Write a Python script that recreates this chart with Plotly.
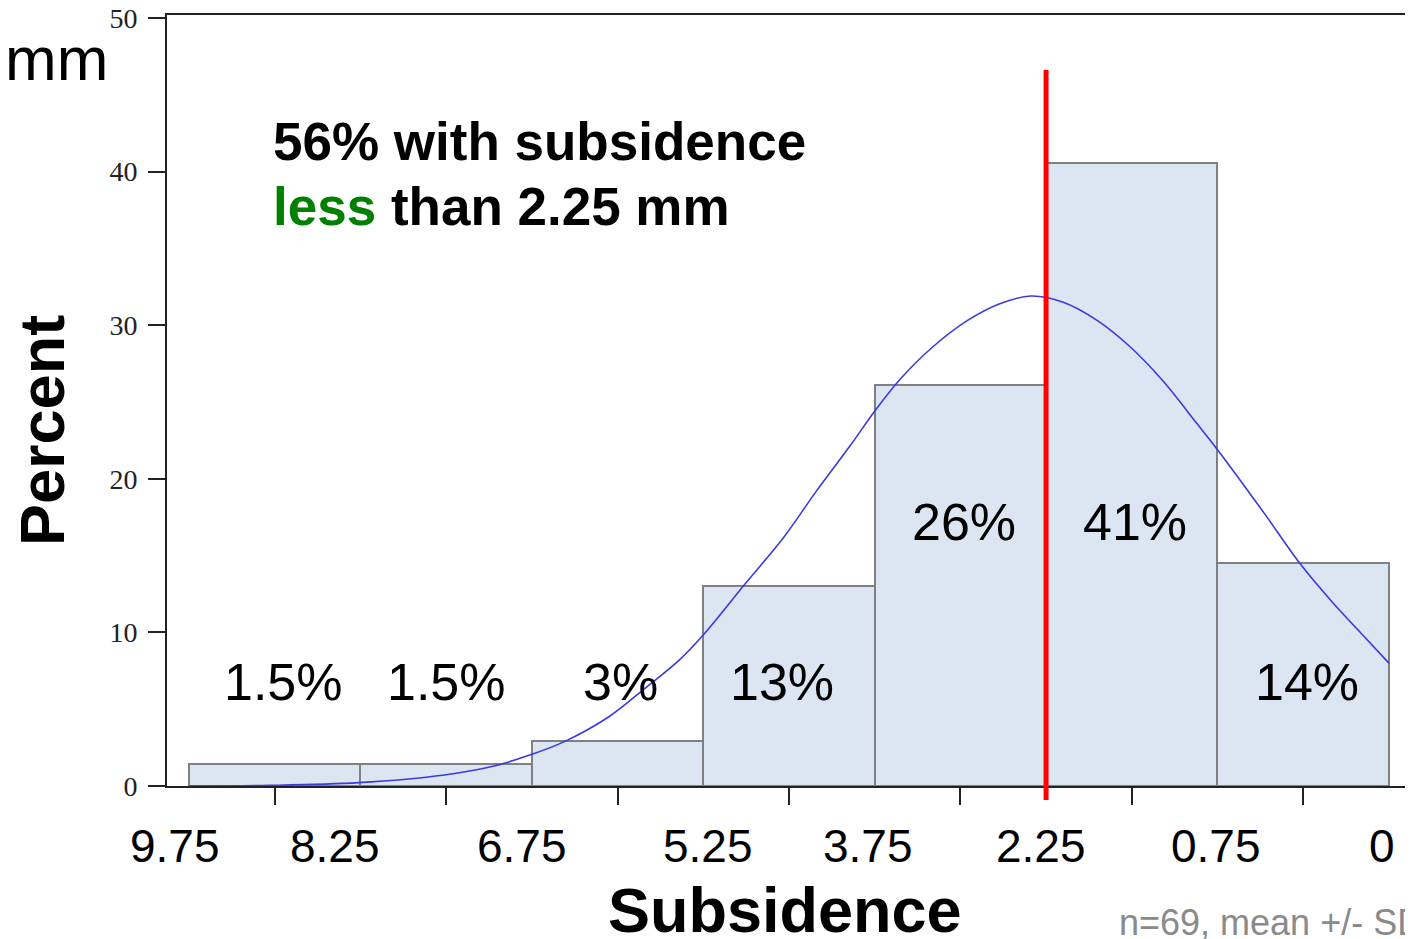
import plotly.graph_objects as go

# ---------------- data ----------------
bin_pos = [0, 1, 2, 3, 4, 5, 6]                      # histogram bins (left -> right)
bin_percent = [1.45, 1.45, 2.90, 13.04, 26.09, 40.58, 14.49]
bin_labels = ["1.5%", "1.5%", "3%", "13%", "26%", "41%", "14%"]
bin_label_x = [0.05, 1.0, 2.02, 2.96, 4.02, 5.02, 6.02]
bin_label_y = [6.8, 6.8, 6.8, 6.8, 17.2, 17.2, 6.8]

tick_texts = ["9.75", "8.25", "6.75", "5.25", "3.75", "2.25", "0.75", "0"]
tick_text_x = [-0.58, 0.35, 1.44, 2.53, 3.46, 4.47, 5.49, 6.46]

# fitted normal curve (x in bin units, y in percent)
curve_x = [-0.50, -0.03, 0.49, 0.99, 1.28, 1.50, 1.69, 1.95, 2.16, 2.36, 2.50, 2.74,
           2.97, 3.16, 3.36, 3.50, 3.65, 3.84, 4.04, 4.23, 4.41, 4.60, 4.80, 4.99,
           5.18, 5.38, 5.50, 5.77, 5.98, 6.16, 6.35, 6.50]
curve_y = [0.0, 0.04, 0.22, 0.72, 1.30, 2.06, 2.89, 4.51, 6.36, 8.2, 9.83, 13.1,
           16.2, 19.2, 22.2, 24.4, 26.5, 28.6, 30.3, 31.4, 31.9, 31.5, 30.3, 28.6,
           26.4, 23.6, 21.9, 17.8, 14.5, 12.1, 9.8, 8.0]

threshold_x = 4.5          # boundary at 2.25 mm
y_ticks = [0, 10, 20, 30, 40, 50]

# ---------------- layout geometry ----------------
OFF = 8                                  # default page margin of the html body
W, H = 1413 - OFF, 939 - OFF
L, R, T, B = 167 - OFF, 1410 - OFF, 15 - OFF, 786 - OFF
X_RANGE = [-0.628, 6.623]
Y_RANGE = [0, 50.2]


def px_x(px):
    """page pixel x -> paper x"""
    return (px - OFF - L) / (R - L)


def px_y(py):
    """page pixel y -> paper y"""
    return (B - (py - OFF)) / (B - T)


def data_to_paper_x(x):
    return (x - X_RANGE[0]) / (X_RANGE[1] - X_RANGE[0])


SANS = "Liberation Sans, Arial, Helvetica, sans-serif"
SERIF = "Liberation Serif, Times New Roman, serif"

fig = go.Figure()

fig.add_trace(go.Bar(
    x=bin_pos, y=bin_percent, width=1.0,
    marker=dict(color="#dce6f2", line=dict(color="#7f8083", width=2)),
    hoverinfo="skip", showlegend=False,
))

fig.add_trace(go.Scatter(
    x=curve_x, y=curve_y, mode="lines", line_shape="spline",
    line=dict(color="#3a3ae0", width=1.6, smoothing=1.0),
    hoverinfo="skip", showlegend=False,
))

# red threshold line (extends slightly below the axis)
xp = data_to_paper_x(threshold_x)
fig.add_shape(type="line", xref="paper", yref="paper",
              x0=xp, x1=xp, y0=px_y(800), y1=px_y(70),
              line=dict(color="#ff0000", width=5), layer="above")

annotations = []
# percent labels
for x, y, t in zip(bin_label_x, bin_label_y, bin_labels):
    annotations.append(dict(x=x, y=y, xref="x", yref="y", text=t, showarrow=False,
                            font=dict(family=SANS, size=52, color="black"),
                            xanchor="center", yanchor="middle"))
# x tick texts
for x, t in zip(tick_text_x, tick_texts):
    annotations.append(dict(x=x, y=px_y(846), xref="x", yref="paper", text=t, showarrow=False,
                            font=dict(family=SANS, size=46, color="black"),
                            xanchor="center", yanchor="middle"))

annotations += [
    dict(x=px_x(271), y=px_y(141), xref="paper", yref="paper",
         text="56% with subsidence", showarrow=False,
         font=dict(family=SANS, size=53, color="black", weight="bold"),
         xanchor="left", yanchor="middle"),
    dict(x=px_x(271), y=px_y(206), xref="paper", yref="paper",
         text="<span style='color:#008000'>less</span> than 2.25 mm", showarrow=False,
         font=dict(family=SANS, size=53, color="black", weight="bold"),
         xanchor="left", yanchor="middle"),
    dict(x=px_x(56), y=px_y(58), xref="paper", yref="paper",
         text="mm", showarrow=False,
         font=dict(family=SANS, size=62, color="black"),
         xanchor="center", yanchor="middle"),
    dict(x=px_x(42), y=px_y(431), xref="paper", yref="paper",
         text="Percent", showarrow=False, textangle=-90,
         font=dict(family=SANS, size=63, color="black", weight="bold"),
         xanchor="center", yanchor="middle"),
    dict(x=px_x(785), y=px_y(910), xref="paper", yref="paper",
         text="Subsidence", showarrow=False,
         font=dict(family=SANS, size=63, color="black", weight="bold"),
         xanchor="center", yanchor="middle"),
    dict(x=px_x(1117), y=px_y(922), xref="paper", yref="paper",
         text="n=69, mean +/- SD", showarrow=False,
         font=dict(family=SANS, size=36, color="#8a8a8a"),
         xanchor="left", yanchor="middle"),
]

fig.update_layout(
    width=W, height=H,
    margin=dict(l=L, r=W - R, t=T, b=H - B, pad=0, autoexpand=False),
    paper_bgcolor="white", plot_bgcolor="white",
    bargap=0, showlegend=False,
    annotations=annotations,
    xaxis=dict(range=X_RANGE, tickvals=bin_pos, showticklabels=False,
               ticks="outside", ticklen=17, tickwidth=2, tickcolor="#222",
               showline=True, linecolor="#222", linewidth=2, mirror=True,
               showgrid=False, zeroline=False, fixedrange=True, automargin=False),
    yaxis=dict(range=Y_RANGE, tickvals=y_ticks,
               ticks="outside", ticklen=17, tickwidth=2, tickcolor="#222",
               ticklabelstandoff=5, ticklabeloverflow="allow",
               tickfont=dict(family=SERIF, size=28, color="#222"),
               showline=True, linecolor="#222", linewidth=2, mirror=True,
               showgrid=False, zeroline=False, fixedrange=True, automargin=False),
)

fig.write_html("out.html", config={"displayModeBar": False})
